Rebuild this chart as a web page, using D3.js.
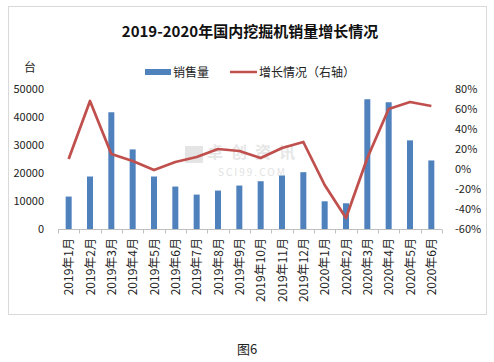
<!DOCTYPE html>
<html><head><meta charset="utf-8">
<script src="https://cdn.jsdelivr.net/npm/d3@7"></script>
<style>body{margin:0;background:#fff}svg{display:block}text{font-family:"Noto Sans CJK SC","DejaVu Sans",sans-serif}</style>
</head><body>
<script>
const categories=["2019年1月","2019年2月","2019年3月","2019年4月","2019年5月","2019年6月","2019年7月","2019年8月","2019年9月","2019年10月","2019年11月","2019年12月","2020年1月","2020年2月","2020年3月","2020年4月","2020年5月","2020年6月"];
const sales=[11580,18750,41690,28420,18750,15160,12290,13730,15520,17060,19100,20290,9890,9180,46340,45270,31650,24480];
const growth=[10,68,15,8,-1,7,12,20,18,11,21,27,-16,-49,11,60,67,63];
const leftTicks=[0,10000,20000,30000,40000,50000];
const rightTicks=[-60,-40,-20,0,20,40,60,80];

const W=494,H=362;
const svg=d3.select("body").append("svg").attr("width",W).attr("height",H);
svg.append("rect").attr("x",8.5).attr("y",6.5).attr("width",478).attr("height",308).attr("fill","#fff").attr("stroke","#d9d9d9");

const x=d3.scaleBand().domain(categories).range([58,442]);
const yL=d3.scaleLinear().domain([0,50000]).range([229,89]);
const yR=d3.scaleLinear().domain([-60,80]).range([229,89]);

svg.append("text").attr("x",250).attr("y",37).attr("text-anchor","middle").attr("font-size",15).attr("font-weight","bold").attr("fill","#111").text("2019-2020年国内挖掘机销量增长情况");

// watermark
const wm=svg.append("g");
wm.append("rect").attr("x",185).attr("y",146).attr("width",18).attr("height",17).attr("fill","#e4e4e4");
wm.append("text").attr("x",207).attr("y",158).attr("font-size",16).attr("letter-spacing",8).attr("font-weight","bold").attr("fill","#e6e6e6").text("卓创资讯");
wm.append("text").attr("x",218).attr("y",176).attr("font-size",10).attr("letter-spacing",2).attr("font-family","Liberation Serif").attr("fill","#e2e2e2").text("SCI99.COM");

svg.append("text").attr("x",24).attr("y",72).attr("font-size",12).attr("fill","#222").text("台");

// legend
svg.append("rect").attr("x",145).attr("y",69).attr("width",26).attr("height",6).attr("fill","#4F81BD");
svg.append("text").attr("x",173).attr("y",77).attr("font-size",12).attr("fill","#222").text("销售量");
svg.append("line").attr("x1",230).attr("x2",257).attr("y1",72).attr("y2",72).attr("stroke","#C0504D").attr("stroke-width",2.5);
svg.append("text").attr("x",259).attr("y",77).attr("font-size",12).attr("fill","#222").text("增长情况（右轴）");

// axis labels
svg.append("g").selectAll("text").data(leftTicks).join("text")
 .attr("x",44).attr("y",d=>yL(d)+4).attr("text-anchor","end").attr("font-size",11).attr("font-family","Liberation Sans").attr("fill","#222").text(d=>d);
svg.append("g").selectAll("text").data(rightTicks).join("text")
 .attr("x",455).attr("y",d=>yR(d)+4).attr("font-size",11).attr("font-family","Liberation Sans").attr("fill","#222").text(d=>d+"%");

// bars
const bw=6;
svg.append("g").selectAll("rect").data(sales).join("rect")
 .attr("x",(d,i)=>x(categories[i])+x.bandwidth()/2-bw/2).attr("width",bw)
 .attr("y",d=>yL(d)).attr("height",d=>yL(0)-yL(d)).attr("fill","#4F81BD");

// x axis
const ax=svg.append("g").attr("transform","translate(0,229.5)");
ax.append("line").attr("x1",58).attr("x2",442).attr("stroke","#bfbfbf");
ax.selectAll("line.t").data(d3.range(categories.length+1)).join("line").attr("class","t")
 .attr("x1",i=>Math.round(58+i*x.step())+0.5).attr("x2",i=>Math.round(58+i*x.step())+0.5).attr("y1",0).attr("y2",4).attr("stroke","#bfbfbf");
svg.append("g").selectAll("text").data(categories).join("text")
 .attr("transform",d=>`translate(${x(d)+x.bandwidth()/2+4.5},238) rotate(-90)`)
 .attr("text-anchor","end").attr("font-size",12).attr("font-family","Noto Sans CJK SC").attr("fill","#222").text(d=>d);

// line
const line=d3.line().x((d,i)=>x(categories[i])+x.bandwidth()/2).y(d=>yR(d));
svg.append("path").datum(growth).attr("d",line).attr("fill","none").attr("stroke","#C0504D").attr("stroke-width",2.75).attr("stroke-linejoin","round");

svg.append("text").attr("x",247).attr("y",354).attr("text-anchor","middle").attr("font-size",13).attr("fill","#222").text("图6");
</script>
</body></html>
